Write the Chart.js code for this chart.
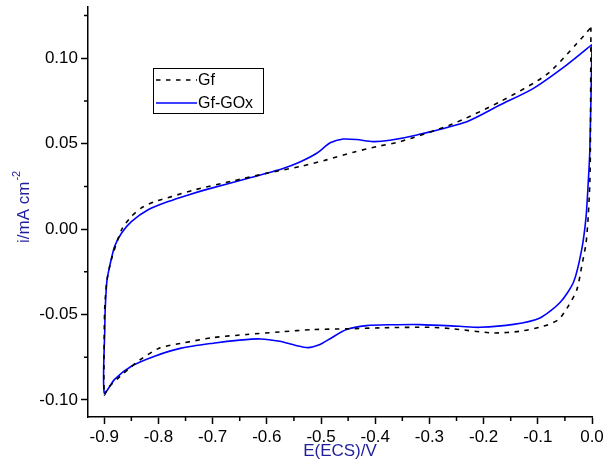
<!DOCTYPE html>
<html>
<head>
<meta charset="utf-8">
<script src="https://cdn.jsdelivr.net/npm/chart.js@4.4.1/dist/chart.umd.min.js"></script>
<style>
  html, body { margin: 0; padding: 0; background: #fff; }
</style>
</head>
<body>
<canvas id="cv" width="603" height="469"></canvas>
<script>
// Gf (dashed) - closed CV loop, E in V vs ECS, i in mA cm-2
const gfE = [-0.002, -0.003, -0.004, -0.007, -0.011, -0.019, -0.028, -0.044, -0.062, -0.090, -0.133, -0.182,
  -0.256, -0.299, -0.391, -0.453, -0.514, -0.576, -0.637, -0.699, -0.760, -0.797, -0.834, -0.870, -0.893, -0.900,
  -0.900, -0.899, -0.895, -0.887, -0.868, -0.850, -0.832, -0.807, -0.776, -0.733, -0.662, -0.600, -0.539, -0.490,
  -0.440, -0.397, -0.354, -0.262, -0.170, -0.084, -0.028, -0.002];
const gfI = [0.118, 0.046, 0.027, 0.0074, -0.0082, -0.0218, -0.0355, -0.0452, -0.053, -0.0569, -0.0598, -0.0608,
  -0.0584, -0.0575, -0.0578, -0.0584, -0.0588, -0.0602, -0.0617, -0.0635, -0.067, -0.0695, -0.0765, -0.086, -0.093, -0.097,
  -0.060, -0.045, -0.030, -0.018, -0.0004, 0.0074, 0.0123, 0.0161, 0.019, 0.023, 0.0282, 0.0327, 0.0366, 0.0405,
  0.045, 0.0483, 0.0512, 0.0609, 0.0745, 0.0904, 0.1086, 0.118];

// Gf-GOx (solid blue)
const goxE = [0.000, -0.004, -0.007, -0.011, -0.019, -0.034, -0.059, -0.096, -0.145, -0.207, -0.244, -0.317,
  -0.370, -0.416, -0.453, -0.485, -0.502, -0.524, -0.548, -0.576, -0.612, -0.650, -0.699, -0.758, -0.807, -0.850,
  -0.881, -0.900, -0.899, -0.898, -0.895, -0.890, -0.881, -0.868, -0.850, -0.819, -0.782, -0.745, -0.709, -0.631,
  -0.570, -0.539, -0.508, -0.483, -0.459, -0.434, -0.404, -0.373, -0.323, -0.231, -0.170, -0.108, -0.047, 0.000];
const goxI = [0.108, 0.046, 0.027, 0.007, -0.012, -0.031, -0.043, -0.052, -0.0558, -0.0575, -0.0569, -0.0559,
  -0.056, -0.0565, -0.0588, -0.0645, -0.0676, -0.0694, -0.068, -0.0657, -0.0643, -0.065, -0.0668, -0.0697, -0.0744, -0.0803,
  -0.088, -0.096, -0.058, -0.045, -0.030, -0.0218, -0.0102, -0.0023, 0.0044, 0.0113, 0.0161, 0.020, 0.0234, 0.030,
  0.0355, 0.0393, 0.0444, 0.0505, 0.0527, 0.0524, 0.0512, 0.052, 0.0551, 0.0629, 0.0726, 0.0824, 0.096, 0.108];

const xMajor = [-0.9, -0.8, -0.7, -0.6, -0.5, -0.4, -0.3, -0.2, -0.1, 0.0];
const xMinor = [-0.85, -0.75, -0.65, -0.55, -0.45, -0.35, -0.25, -0.15, -0.05];
const yMajor = [-0.10, -0.05, 0.00, 0.05, 0.10];
const yMinor = [-0.075, -0.025, 0.025, 0.075, 0.125];

const labelColor = '#1f1f9c';
const fontFam = 'Arial, "Liberation Sans", sans-serif';

function pts(xs, ys) {
    return xs.map((x, i) => ({ x: x, y: ys[i] }));
}

// minor ticks, y title with superscript, legend box
const extras = {
    id: 'extras',
    afterDraw(chart) {
        const ctx = chart.ctx;
        const xs = chart.scales.x, ys = chart.scales.y;
        const area = chart.chartArea;
        ctx.save();
        ctx.strokeStyle = '#000';
        ctx.lineWidth = 1.5;
        ctx.beginPath();
        xMinor.forEach(v => {
            const p = xs.getPixelForValue(v);
            ctx.moveTo(p, area.bottom);
            ctx.lineTo(p, area.bottom + 4);
        });
        yMinor.forEach(v => {
            const p = ys.getPixelForValue(v);
            ctx.moveTo(area.left, p);
            ctx.lineTo(area.left - 4, p);
        });
        ctx.stroke();

        // y axis title
        ctx.save();
        ctx.translate(29, 243);
        ctx.rotate(-Math.PI / 2);
        ctx.fillStyle = labelColor;
        ctx.textBaseline = 'alphabetic';
        ctx.textAlign = 'left';
        ctx.font = '17px ' + fontFam;
        const main = 'i/mA cm';
        ctx.fillText(main, 0, 0);
        const w = ctx.measureText(main).width;
        ctx.font = '11px ' + fontFam;
        ctx.fillText('-2', w + 1, -9);
        ctx.restore();

        // legend
        const lx = area.left + 65, ly = area.top + 61;
        ctx.lineWidth = 1;
        ctx.strokeStyle = '#000';
        ctx.strokeRect(lx + 0.5, ly + 0.5, 110, 45);
        ctx.font = '16px ' + fontFam;
        ctx.textBaseline = 'middle';
        ctx.fillStyle = '#000';
        chart.data.datasets.forEach((ds, i) => {
            const yy = ly + 12 + i * 23;
            ctx.save();
            ctx.strokeStyle = ds.borderColor;
            ctx.lineWidth = ds.borderWidth;
            ctx.setLineDash(ds.borderDash || []);
            ctx.beginPath();
            ctx.moveTo(lx + 3, yy);
            ctx.lineTo(lx + 44, yy);
            ctx.stroke();
            ctx.restore();
            ctx.fillText(ds.label, lx + 45, yy + 1);
        });
        ctx.restore();
    }
};

const config = {
    type: 'line',
    data: {
        datasets: [
            {
                label: 'Gf',
                data: pts(gfE, gfI),
                borderColor: '#000000',
                borderWidth: 1.6,
                borderDash: [4.5, 5.5],
                pointRadius: 0,
                tension: 0.25,
                fill: false
            },
            {
                label: 'Gf-GOx',
                data: pts(goxE, goxI),
                borderColor: '#0000ff',
                borderWidth: 1.6,
                pointRadius: 0,
                tension: 0.25,
                fill: false
            }
        ]
    },
    options: {
        responsive: false,
        animation: false,
        parsing: false,
        layout: { padding: { top: 7, right: 11, left: 0, bottom: 0 } },
        plugins: {
            legend: { display: false },
            tooltip: { enabled: false }
        },
        scales: {
            x: {
                type: 'linear',
                min: -0.93,
                max: 0.0,
                afterBuildTicks: s => { s.ticks = xMajor.map(v => ({ value: v })); },
                afterFit: s => { s.height = 52; s.paddingLeft = 0; s.paddingRight = 0; },
                border: { display: true, color: '#000', width: 1.5 },
                grid: { display: true, drawOnChartArea: false, drawTicks: true, tickLength: 7, tickColor: '#000', tickWidth: 1.5 },
                ticks: {
                    color: '#000',
                    font: { size: 17, family: fontFam },
                    padding: 3,
                    maxRotation: 0,
                    autoSkip: false,
                    callback: v => v.toFixed(1)
                },
                title: {
                    display: true,
                    text: 'E(ECS)/V',
                    color: labelColor,
                    font: { size: 17, family: fontFam },
                    padding: { top: 0, bottom: 7 }
                }
            },
            y: {
                type: 'linear',
                min: -0.11,
                max: 0.13,
                afterBuildTicks: s => { s.ticks = yMajor.map(v => ({ value: v })); },
                afterFit: s => { s.width = 88; s.paddingTop = 0; s.paddingBottom = 0; },
                border: { display: true, color: '#000', width: 1.5 },
                grid: { display: true, drawOnChartArea: false, drawTicks: true, tickLength: 7, tickColor: '#000', tickWidth: 1.5 },
                ticks: {
                    color: '#000',
                    font: { size: 17, family: fontFam },
                    padding: 3,
                    callback: v => v.toFixed(2)
                }
            }
        }
    },
    plugins: [extras]
};

new Chart(document.getElementById('cv').getContext('2d'), config);
</script>
</body>
</html>
